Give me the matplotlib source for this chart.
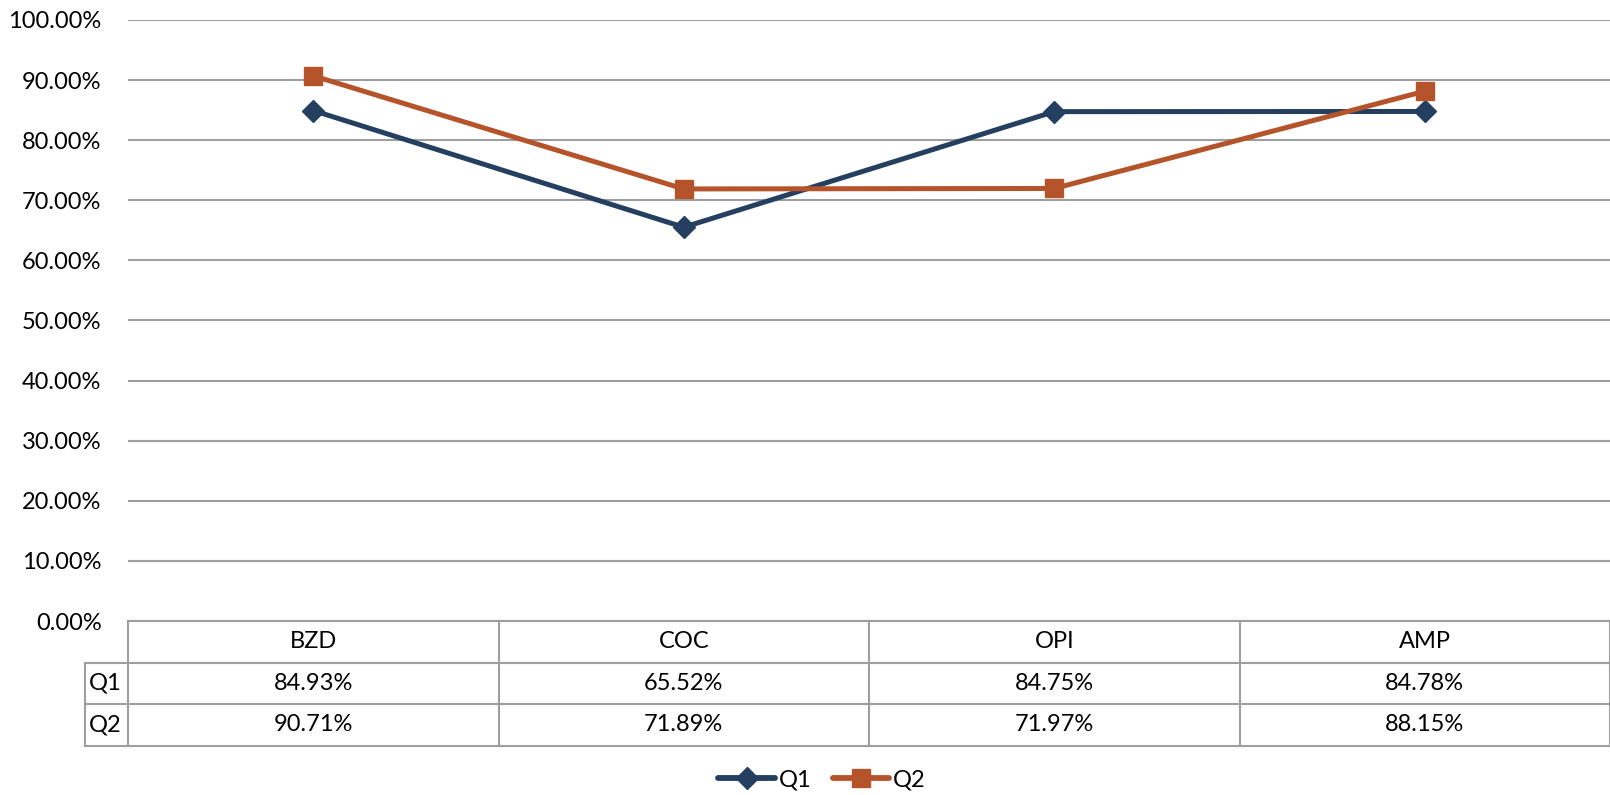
import matplotlib
matplotlib.use("Agg")
import matplotlib.pyplot as plt
from matplotlib.ticker import PercentFormatter, MultipleLocator
from matplotlib.lines import Line2D

categories = ["BZD", "COC", "OPI", "AMP"]
q1 = [84.93, 65.52, 84.75, 84.78]
q2 = [90.71, 71.89, 71.97, 88.15]
series_names = ["Q1", "Q2"]

plt.rcParams['font.family'] = ['Lato', 'DejaVu Sans']
FS = 17
c1 = "#243F60"
c2 = "#B5532A"
grid_c = "#9E9E9E"
LW = 3.6

W, H = 1610, 795
fig = plt.figure(figsize=(W / 100, H / 100), dpi=100)

left_px, right_px = 128, 1610
top_px, zero_px = 20, 621
ax = fig.add_axes([left_px / W, 1 - zero_px / H, (right_px - left_px) / W, (zero_px - top_px) / H])
x = list(range(len(categories)))
ax.plot(x, [v / 100 for v in q1], color=c1, lw=LW, marker='D', ms=11, label=series_names[0],
        zorder=3, solid_capstyle='round', solid_joinstyle='round')
ax.plot(x, [v / 100 for v in q2], color=c2, lw=LW, marker='s', ms=13, label=series_names[1],
        zorder=3, solid_capstyle='round', solid_joinstyle='round')
ax.set_xlim(-0.5, len(categories) - 0.5)
ax.set_ylim(0, 1)
ax.yaxis.set_major_locator(MultipleLocator(0.1))
ax.yaxis.set_major_formatter(PercentFormatter(1.0, decimals=2))
ax.grid(axis='y', color=grid_c, lw=1.5)
ax.set_axisbelow(True)
for s in ax.spines.values():
    s.set_visible(False)
ax.tick_params(axis='y', length=0, pad=19, labelsize=FS)
ax.tick_params(axis='x', length=0, labelbottom=False)

# data table
row_h = 41.5
n_rows = 3
tab_top = zero_px
tab_bot = zero_px + row_h * n_rows
tax = fig.add_axes([left_px / W, 1 - tab_bot / H, (right_px - left_px) / W, (tab_bot - tab_top) / H])
tax.set_xlim(-0.5, len(categories) - 0.5)
tax.set_ylim(n_rows, 0)
tax.axis('off')
unit_px = (right_px - left_px) / len(categories)
lab_w = 43 / unit_px
lkw = dict(color=grid_c, lw=1.5, clip_on=False)
tax.plot([-0.5, len(categories) - 0.5], [0, 0], **lkw)
for r in range(1, n_rows + 1):
    tax.plot([-0.5 - lab_w, len(categories) - 0.5], [r, r], **lkw)
tax.plot([-0.5 - lab_w, -0.5 - lab_w], [1, n_rows], **lkw)
tax.plot([-0.5, -0.5], [0, n_rows], **lkw)
for i in range(len(categories)):
    tax.plot([i + 0.5, i + 0.5], [0, n_rows], **lkw)
for i, c in enumerate(categories):
    tax.text(i, 0.5, c, ha='center', va='center', fontsize=FS)
    tax.text(i, 1.5, f"{q1[i]:.2f}%", ha='center', va='center', fontsize=FS)
    tax.text(i, 2.5, f"{q2[i]:.2f}%", ha='center', va='center', fontsize=FS)
tax.text(-0.5 - lab_w + 0.01, 1.5, series_names[0], ha='left', va='center', fontsize=FS)
tax.text(-0.5 - lab_w + 0.01, 2.5, series_names[1], ha='left', va='center', fontsize=FS)

handles = [Line2D([], [], color=c1, lw=LW + 0.6, marker='D', ms=11, solid_capstyle='round'),
           Line2D([], [], color=c2, lw=LW + 0.6, marker='s', ms=13, solid_capstyle='round')]
fig.legend(handles, series_names, loc='center', bbox_to_anchor=(822 / W, 1 - 780 / H),
           ncol=2, frameon=False, fontsize=FS, handlelength=2.4, handletextpad=0.15,
           columnspacing=0.9, borderpad=0)

fig.savefig("out.png", dpi=100)
